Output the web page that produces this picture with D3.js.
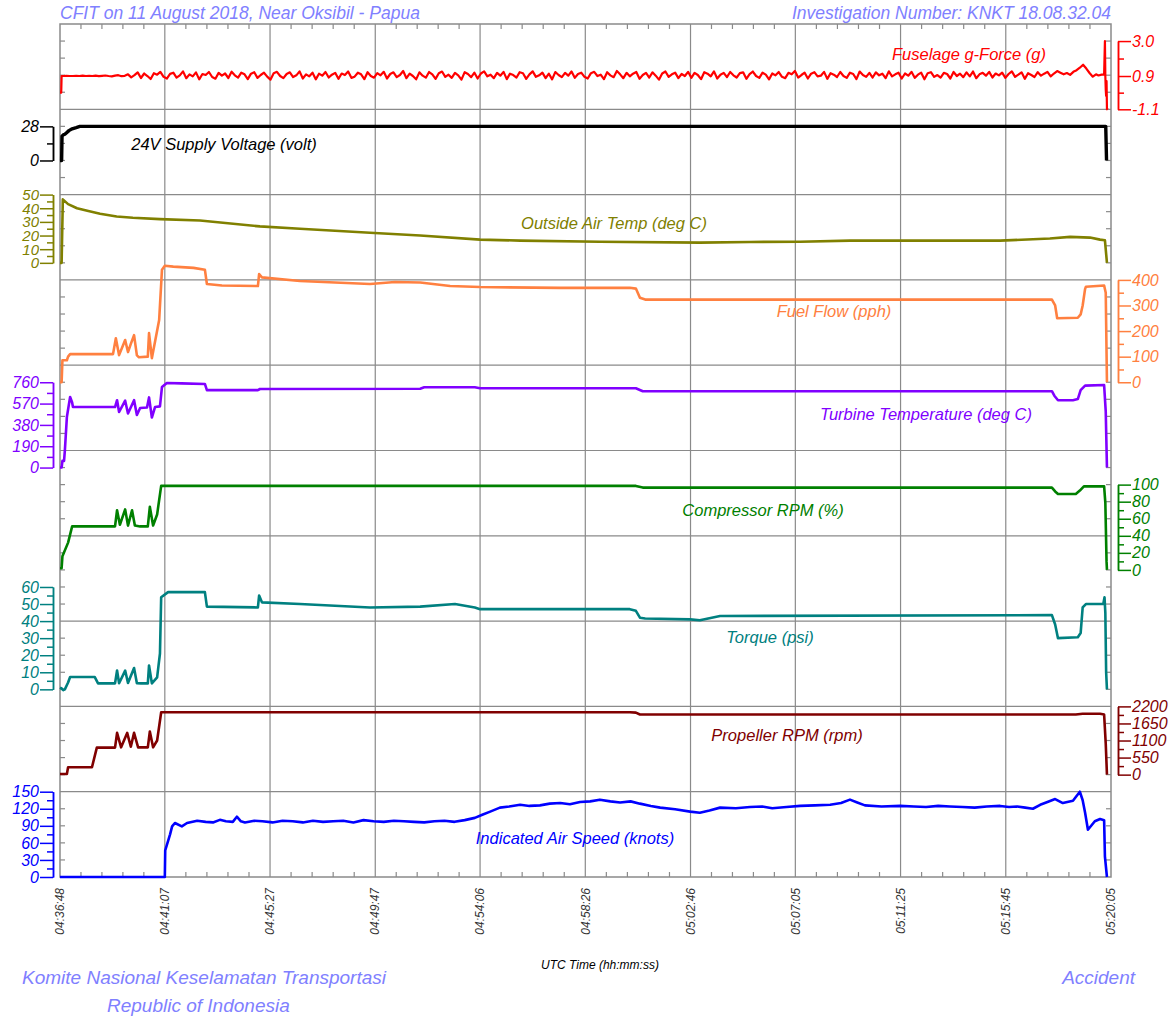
<!DOCTYPE html>
<html><head><meta charset="utf-8">
<script src="https://cdn.jsdelivr.net/npm/d3@7"></script>
<style>
body{margin:0;background:#fff}
text{font-family:"Liberation Sans",Arial,sans-serif;font-style:italic}
</style>
</head><body>
<svg id="c" width="1172" height="1019"></svg>
<script>
// ---------------- DATA ----------------
const timeTickLabels = ["04:36:48","04:41:07","04:45:27","04:49:47","04:54:06","04:58:26","05:02:46","05:07:05","05:11:25","05:15:45","05:20:05"];

// all times: seconds from 04:36:48
const gForceStart = [[0,-0.1],[3,-0.1],[4,0.9]];
const gForceStep = 8, gForceFirst = 8;
const gForceValues = [
0.90,0.91,0.90,0.90,0.91,0.90,0.92,0.90,0.91,0.90,
0.92,0.89,0.91,0.93,0.90,0.88,0.92,0.95,0.89,0.91,
1.00,0.82,0.95,1.12,0.78,1.05,0.90,0.72,1.07,0.98,
1.15,0.85,0.75,1.03,1.10,0.80,0.94,1.18,0.77,1.00,
0.88,1.12,0.70,1.02,0.96,1.14,0.84,0.74,1.09,0.92,
1.05,0.78,1.16,0.94,0.80,1.10,1.00,0.71,1.04,1.13,
0.79,0.96,1.10,0.86,0.68,1.07,1.15,0.90,0.77,1.02,
1.12,0.84,0.94,1.18,0.75,1.00,0.88,1.10,0.70,1.04,
0.92,1.14,0.81,0.98,1.09,0.73,1.05,0.96,1.17,0.79,
0.86,1.10,1.00,0.71,1.13,0.90,0.80,1.07,0.94,1.15,
0.75,1.02,1.12,0.83,0.96,1.20,0.77,1.04,0.90,0.70,
1.12,0.92,0.80,1.14,1.00,0.73,1.07,1.17,0.85,0.98,
0.79,1.09,0.94,0.68,1.13,1.02,0.83,1.10,0.75,1.05,
1.18,0.88,0.98,0.77,1.09,0.92,1.15,0.71,1.04,0.96,
0.81,1.13,1.07,0.73,1.00,1.18,0.85,0.94,1.10,0.77,
1.04,0.70,1.14,0.96,0.83,1.09,0.92,1.17,0.79,1.02,
1.10,0.85,0.75,1.07,1.15,0.90,0.98,0.71,1.13,0.94,
0.83,1.20,1.00,0.77,1.09,0.88,1.04,1.14,0.73,0.96,
1.09,0.81,1.12,0.92,0.68,1.05,1.17,0.85,1.00,1.10,
0.77,1.02,0.90,1.15,0.79,1.09,0.96,0.71,1.13,1.04,
0.88,1.18,0.75,0.98,1.09,0.83,1.14,0.94,0.81,1.07,
1.12,0.73,1.02,1.17,0.90,0.79,1.10,0.98,0.70,1.05,
0.94,1.14,0.85,0.77,1.09,1.00,1.20,0.81,0.96,1.10,
0.75,1.04,1.13,0.88,0.92,1.15,0.73,1.07,0.98,0.84,
1.14,0.90,0.79,1.10,1.02,0.71,1.17,0.96,0.85,1.09,
0.81,1.12,0.94,1.04,0.77,1.18,0.88,1.00,1.10,0.75,
1.05,0.92,1.15,0.79,0.98,1.10,0.70,1.07,1.13,0.85,
0.96,0.81,1.09,1.02,0.75,1.14,0.90,1.04,0.83,1.12,
0.88,1.17,0.77,1.00,1.09,0.92,1.15,0.81,1.05,0.94,
1.10,0.79,1.02,1.18,0.85,0.98,1.12,0.73,1.07,0.96,
0.84,1.13,0.92,1.04,1.15,0.88,1.05,1.20,1.10,1.00,
1.08,0.97,1.15,1.25,1.40,1.58,1.35,1.08,0.86,1.00];
const gForceEnd = [[2566,0.93],[2574,0.98],[2580,1.0],[2582,3.0],[2583,0.9],[2584,0.1],[2585,-0.3],[2586,0.6],[2587,-1.1],[2588,-1.0]];

const voltage = [[0,0],[4,0],[5,20],[8,21],[12,21.5],[17,23],[22,24.5],[30,26],[40,27],[49,28],[2584,28],[2586,0]];

const airTemp = [[0,0],[4,0],[7,46.5],[20,43],[42,40],[70,38],[99,36],[140,34],[180,33],[247,32],[346,31],[494,26.7],[593,25],[766,22],[890,20],[1038,17],[1137,16.3],[1334,15.5],[1581,14.8],[1705,15.3],[1829,15.5],[1952,16.3],[2076,16.3],[2323,16.3],[2446,17.8],[2496,19],[2545,18.5],[2570,17],[2582,16.5],[2587,0]];

const fuelFlow = [[0,0],[4,0],[6,86],[17,86],[20,100],[25,110],[131,110],[138,172],[146,106],[161,165],[168,118],[175,150],[183,184],[190,105],[195,98],[217,100],[220,192],[227,94],[235,160],[245,243],[252,440],[259,455],[280,452],[330,447],[358,440],[363,384],[400,378],[489,376],[492,423],[499,410],[593,396],[766,384],[828,392],[890,390],[964,376],[1038,372],[1236,369],[1408,369],[1423,366],[1433,330],[1446,323],[2451,323],[2459,300],[2464,250],[2515,252],[2522,265],[2527,300],[2533,365],[2535,373],[2580,378],[2584,350],[2587,0]];

const turbineTemp = [[0,0],[4,0],[6,60],[10,60],[12,150],[17,450],[25,629],[30,580],[32,539],[136,539],[141,600],[146,495],[161,596],[168,482],[183,600],[190,468],[198,530],[215,535],[220,625],[227,446],[235,540],[247,545],[252,718],[264,754],[300,750],[358,745],[363,690],[489,690],[494,700],[890,702],[900,715],[1025,715],[1038,707],[1423,707],[1440,680],[2451,680],[2457,640],[2466,600],[2503,600],[2515,610],[2522,690],[2533,730],[2580,735],[2584,500],[2587,0]];

const compressorRpm = [[0,2],[4,2],[6,16],[20,32],[30,51],[136,51],[141,70],[148,53],[161,71],[168,52],[178,70],[185,52],[198,51],[217,51],[222,74],[230,52],[240,65],[250,98.5],[1423,98.5],[1440,96.5],[2451,96.5],[2459,92],[2466,89],[2510,89],[2520,93],[2530,98],[2580,98],[2583,79],[2586,10],[2587,0]];

const torque = [[0,1],[4,0.5],[8,-0.5],[12,0],[20,4],[25,7.2],[86,7.2],[94,3.5],[136,3.5],[141,11],[146,3.6],[161,11],[168,3.7],[183,12.5],[190,3.6],[200,3.5],[217,3.5],[220,14],[227,3.5],[240,7],[247,21],[250,54],[267,57],[358,57],[363,48.5],[489,48],[492,55],[499,51],[593,50],[766,48],[890,48.5],[976,50],[1025,48],[1038,47],[1408,47],[1423,46],[1433,42],[1446,41.5],[1557,41],[1581,40.5],[1631,43],[2451,43.5],[2459,38],[2466,30],[2515,30.5],[2522,33],[2527,48],[2535,50],[2578,50],[2581,54],[2583,45],[2585,10],[2587,0]];

const propellerRpm = [[0,20],[17,20],[20,240],[79,240],[91,870],[136,870],[141,1346],[151,880],[166,1346],[175,900],[183,1346],[193,880],[217,880],[222,1390],[230,880],[240,1100],[250,2013],[1408,2013],[1423,2000],[1433,1940],[2510,1940],[2527,1965],[2570,1965],[2580,1940],[2584,1000],[2587,0]];

const airSpeed = [[0,0],[259,0],[260,47],[272,75],[277,89],[284,95],[301,89],[314,95],[339,99],[360,97],[378,96],[395,100.5],[410,98],[427,97],[437,106],[447,98],[457,96],[480,99],[500,98],[525,96],[550,99],[575,98],[600,96],[625,99],[650,97],[675,98],[700,99],[725,96],[750,100],[775,98],[800,97],[825,99],[850,98],[875,97],[900,96],[925,98],[950,99],[975,97],[1000,100],[1025,104],[1045,110],[1063,115],[1087,122],[1110,124],[1137,127],[1160,125],[1186,126],[1210,129],[1236,130],[1260,128],[1285,132],[1310,133],[1334,136],[1360,133],[1384,131],[1410,133],[1433,129],[1460,125],[1483,122],[1520,119],[1557,115],[1581,113],[1605,117],[1631,122],[1670,121],[1705,123],[1735,124],[1760,121],[1795,123],[1829,125],[1865,126],[1903,127],[1930,130],[1952,136],[1970,131],[1989,126],[2030,124],[2076,125],[2110,124],[2140,123],[2170,125],[2199,124],[2230,123],[2260,122],[2290,124],[2323,125],[2345,123],[2365,124],[2385,122],[2404,120],[2422,127],[2440,132],[2459,137],[2478,130],[2503,134],[2520,150],[2527,135],[2533,113],[2540,83],[2557,98],[2570,102],[2580,100],[2582,36],[2587,0]];

const gTicks = [-1.1, 0.9, 3.0], gTickLabels = ["-1.1","0.9","3.0"];
const voltTicks = [0, 28];
const tempTicks = [0, 10, 20, 30, 40, 50];
const fuelTicks = [0, 100, 200, 300, 400];
const turbTicks = [0, 190, 380, 570, 760];
const compTicks = [0, 20, 40, 60, 80, 100];
const torqueTicks = [0, 10, 20, 30, 40, 50, 60];
const propTicks = [0, 550, 1100, 1650, 2200];
const iasTicks = [0, 30, 60, 90, 120, 150];

const seriesLabels = ["Fuselage g-Force (g)","24V Supply Voltage (volt)","Outside Air Temp (deg C)","Fuel Flow (pph)","Turbine Temperature (deg C)","Compressor RPM (%)","Torque (psi)","Propeller RPM (rpm)","Indicated Air Speed (knots)"];

// ---------------- LAYOUT ----------------
const svg = d3.select("#c");
const L = 60, R = 1111, T = 24, B = 877;
const rowH = (B - T) / 10;
const ry = f => T + f * rowH;
const toSec = s => { const p = s.split(":").map(Number); return p[0]*3600 + p[1]*60 + p[2]; };
const t0 = toSec(timeTickLabels[0]);
const tickSecs = timeTickLabels.map(s => toSec(s) - t0);
const x = d3.scaleLinear().domain([0, tickSecs[tickSecs.length-1]]).range([L, R]);

const gridC = "#8a8a8a";
for (let i = 1; i < 10; i++) {
  svg.append("line").attr("x1", L).attr("x2", R).attr("y1", ry(i)).attr("y2", ry(i))
    .attr("stroke", gridC).attr("stroke-width", 1.2);
}
tickSecs.slice(1, -1).forEach(t => {
  svg.append("line").attr("x1", x(t)).attr("x2", x(t)).attr("y1", T).attr("y2", B)
    .attr("stroke", gridC).attr("stroke-width", 1.2);
});
for (let i = 0; i < tickSecs.length - 1; i++) {
  for (let k = 1; k < 5; k++) {
    const xx = x(tickSecs[i] + (tickSecs[i+1] - tickSecs[i]) * k / 5);
    svg.append("line").attr("x1", xx).attr("x2", xx).attr("y1", T).attr("y2", T + 5).attr("stroke", gridC).attr("stroke-width", 1.2);
    svg.append("line").attr("x1", xx).attr("x2", xx).attr("y1", B - 5).attr("y2", B).attr("stroke", gridC).attr("stroke-width", 1.2);
  }
}
for (let i = 1; i < 50; i++) {
  if (i % 5 === 0) continue;
  const yy = T + i * rowH / 5;
  svg.append("line").attr("x1", L).attr("x2", L + 5).attr("y1", yy).attr("y2", yy).attr("stroke", gridC).attr("stroke-width", 1.2);
  svg.append("line").attr("x1", R - 5).attr("x2", R).attr("y1", yy).attr("y2", yy).attr("stroke", gridC).attr("stroke-width", 1.2);
}
svg.append("rect").attr("x", L).attr("y", T).attr("width", R - L).attr("height", B - T)
  .attr("fill", "none").attr("stroke", gridC).attr("stroke-width", 1.5);

timeTickLabels.forEach((lab, i) => {
  svg.append("text").attr("transform", `translate(${x(tickSecs[i])},888) rotate(-90)`)
    .attr("dy", "0.35em").attr("text-anchor", "end").attr("font-size", 12).attr("fill", "#333")
    .text(lab);
});

const gForce = gForceStart.concat(gForceValues.map((v, i) => [gForceFirst + i * gForceStep, v]), gForceEnd);

const specs = [
  {data: gForce, color: "#ff0000", side: "right", top: 0.2, bot: 1.0, dom: [-1.1, 3.0], ticks: gTicks, tlab: gTickLabels, lx: 969, ly: 60, sw: 2.2},
  {data: voltage, color: "#000000", side: "left", top: 1.2, bot: 1.6, dom: [0, 28], ticks: voltTicks, lx: 224, ly: 150, sw: 3.4},
  {data: airTemp, color: "#808000", side: "left", top: 2.0, bot: 2.8, dom: [0, 50], ticks: tempTicks, lx: 614, ly: 229, fs: 15},
  {data: fuelFlow, color: "#ff8040", side: "right", top: 3.0, bot: 4.2, dom: [0, 400], ticks: fuelTicks, lx: 834, ly: 317},
  {data: turbineTemp, color: "#8000ff", side: "left", top: 4.2, bot: 5.2, dom: [0, 760], ticks: turbTicks, lx: 926, ly: 420},
  {data: compressorRpm, color: "#008000", side: "right", top: 5.4, bot: 6.4, dom: [0, 100], ticks: compTicks, lx: 763, ly: 516},
  {data: torque, color: "#008080", side: "left", top: 6.6, bot: 7.8, dom: [0, 60], ticks: torqueTicks, lx: 770, ly: 643},
  {data: propellerRpm, color: "#800000", side: "right", top: 8.0, bot: 8.8, dom: [0, 2200], ticks: propTicks, lx: 787, ly: 741},
  {data: airSpeed, color: "#0000ff", side: "left", top: 9.0, bot: 10.0, dom: [0, 150], ticks: iasTicks, lx: 575, ly: 844}
];

specs.forEach((s, i) => {
  const y = d3.scaleLinear().domain(s.dom).range([ry(s.bot), ry(s.top)]);
  const minors = s.ticks.slice(0, -1).map((v, k) => (v + s.ticks[k+1]) / 2);
  const ax = s.side === "left" ? d3.axisLeft(y) : d3.axisRight(y);
  const axm = s.side === "left" ? d3.axisLeft(y) : d3.axisRight(y);
  const ga = svg.append("g").attr("transform", `translate(${s.side === "left" ? 53 : 1118},0)`).attr("color", s.color);
  ga.call(axm.tickValues(minors).tickSize(6).tickSizeOuter(0).tickFormat(""));
  ga.selectAll(".tick text").remove();
  ga.append("g").call(ax.tickValues(s.ticks).tickSize(13).tickSizeOuter(0).tickPadding(1)
    .tickFormat((d, k) => s.tlab ? s.tlab[k] : d));
  ga.selectAll("path.domain").attr("stroke-width", 1.5);
  ga.selectAll(".tick line").attr("stroke-width", 1.5);
  ga.selectAll(".tick text").attr("font-family", '"Liberation Sans",Arial,sans-serif')
    .attr("font-style", "italic").attr("font-size", s.fs || 16);
  ga.attr("font-family", null).attr("font-size", null);
  ga.selectAll("g").attr("font-family", null).attr("font-size", null);

  const line = d3.line().x(d => x(d[0])).y(d => y(d[1]));
  svg.append("path").datum(s.data).attr("d", line).attr("fill", "none")
    .attr("stroke", s.color).attr("stroke-width", s.sw || 2.6).attr("stroke-linejoin", "round");

  svg.append("text").attr("x", s.lx).attr("y", s.ly).attr("text-anchor", "middle")
    .attr("font-size", 16.5).attr("fill", s.color).text(seriesLabels[i]);
});

svg.append("text").attr("x", 60).attr("y", 19).attr("font-size", 17.5).attr("fill", "#8080ff")
  .text("CFIT on 11 August 2018, Near Oksibil - Papua");
svg.append("text").attr("x", 1111).attr("y", 19).attr("text-anchor", "end").attr("font-size", 17.5).attr("fill", "#8080ff")
  .text("Investigation Number: KNKT 18.08.32.04");
svg.append("text").attr("x", 600).attr("y", 969).attr("text-anchor", "middle").attr("font-size", 12).attr("fill", "#000")
  .text("UTC Time (hh:mm:ss)");
svg.append("text").attr("x", 22).attr("y", 984).attr("font-size", 19).attr("fill", "#8080ff")
  .text("Komite Nasional Keselamatan Transportasi");
svg.append("text").attr("x", 107).attr("y", 1012).attr("font-size", 19).attr("fill", "#8080ff")
  .text("Republic of Indonesia");
svg.append("text").attr("x", 1135).attr("y", 984).attr("text-anchor", "end").attr("font-size", 19).attr("fill", "#8080ff")
  .text("Accident");
</script>
</body></html>
